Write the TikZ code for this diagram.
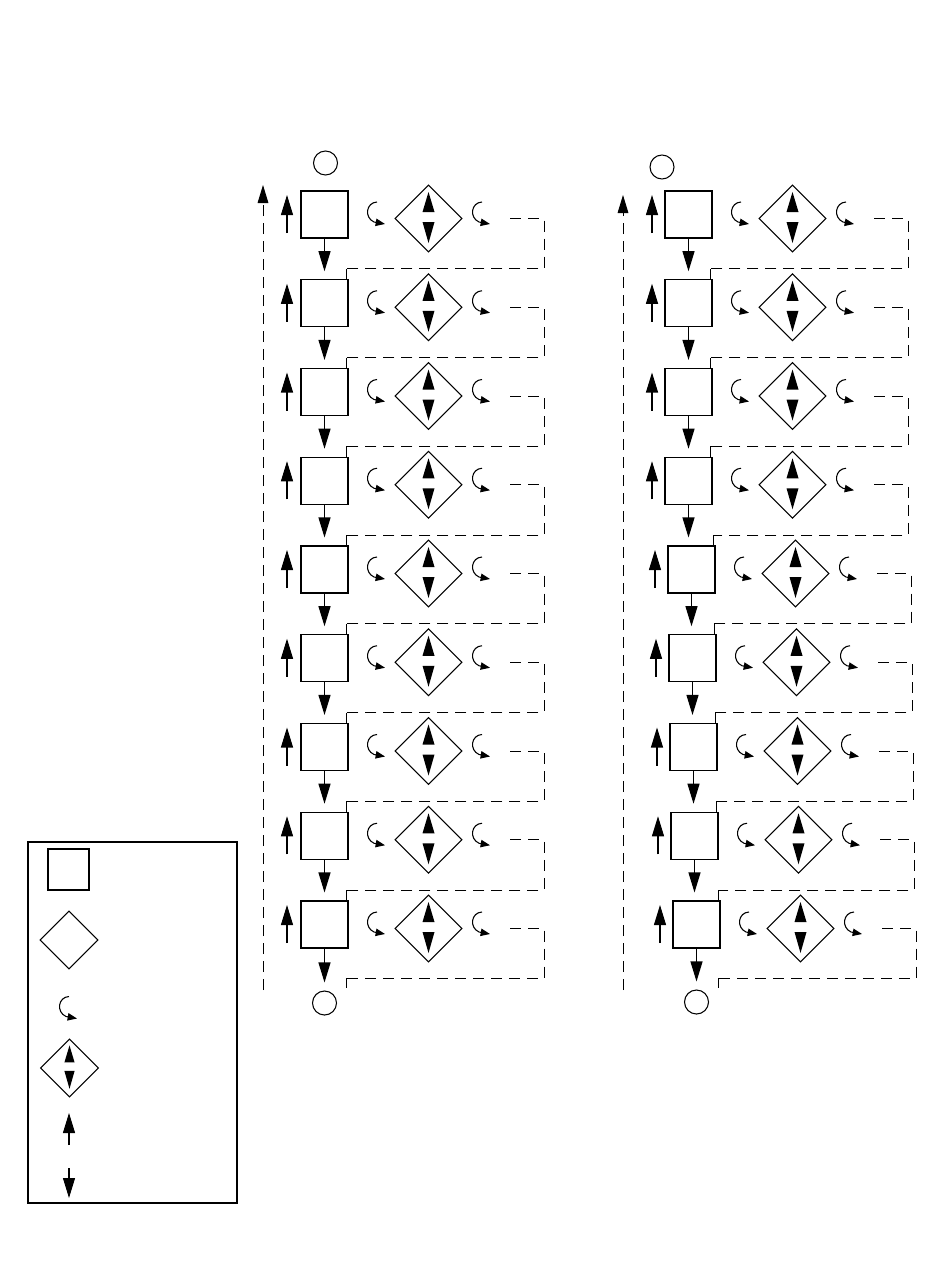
\documentclass[tikz,border=0pt]{standalone}
\usetikzlibrary{arrows.meta,shapes.geometric}
\tikzset{
  px/.style={x=0.75pt,y=-0.75pt},
  lw/.style={line width=0.8pt},
  sqbox/.style={draw,lw,rectangle,minimum size=35.25pt,inner sep=0pt},
  dbox/.style={draw,lw,diamond,aspect=1,minimum width=50.25pt,minimum height=50.25pt,inner sep=0pt},
  circ/.style={draw,lw,circle,minimum size=18pt,inner sep=0pt},
  arr/.style={lw,-{Triangle[length=15pt,width=9pt]}},
  curlarr/.style={lw,-{Triangle[length=7pt,width=5.5pt]}},
  dline/.style={line width=0.7pt,dash pattern=on 8.25pt off 5.25pt},
  sline/.style={line width=0.7pt},
  tri/.style={fill=black},
}
\newcommand{\mycurl}[2]{%
  \draw[curlarr] ({#1+10},{#2-12.5}) .. controls ({#1-1},{#2-12}) and ({#1-3},{#2+3}) .. ({#1+7},{#2+7.5}) -- ({#1+18},{#2+9.5});}
\newcommand{\mytris}[3]{% x, y, scale
  \fill ({#1},{#2-26.5*#3}) -- ({#1+6*#3},{#2-6.5*#3}) -- ({#1-6*#3},{#2-6.5*#3}) -- cycle;
  \fill ({#1},{#2+24.5*#3}) -- ({#1+6*#3},{#2+3.5*#3}) -- ({#1-6*#3},{#2+3.5*#3}) -- cycle;}
\newcommand{\myrow}[4]{% col, index, sx, uparrow offset
  \pgfmathsetmacro\yc{214.5+(#2-1)*88.75}
  \node[sqbox] (sq#1#2) at ({#3+23.5},\yc) {};
  \node[dbox] (dm#1#2) at ({#3+127.5},{\yc+4}) {};
  \mytris{#3+127.5}{\yc+4}{1}
  \mycurl{#3+66}{\yc}
  \mycurl{#3+171}{\yc}
  \coordinate (ds#1#2) at ({#3+209},{\yc+4});
  \draw[arr] ({#3-#4},{\yc+18.5}) -- ({#3-#4},{\yc-19.5});
}
\newcommand{\mylink}[6]{% col, i, j, sx_i, sx_j
  \pgfmathsetmacro\yc{214.5+(#2-1)*88.75}
  \coordinate (k#1#2) at ({#5+45},{\yc+54.25});
  \draw[dline] (ds#1#2) -- ({#4+243},{\yc+4}) -- ({#4+243},{\yc+54.25}) -- (k#1#2);
  \draw[sline] (k#1#2) -- (k#1#2 |- sq#1#3.north);
  \draw[arr,shorten >=6pt] (sq#1#2.south) -- (sq#1#2.south |- sq#1#3.north);
}
\begin{document}
\begin{tikzpicture}[px]
\useasboundingbox (0,0) rectangle (950,1267);
% left column
\foreach \i in {1,...,9}{\myrow{L}{\i}{301}{14}}
\foreach \i/\j in {1/2,2/3,3/4,4/5,5/6,6/7,7/8,8/9}{\mylink{L}{\i}{\j}{301}{301}{}}
% right column
\foreach \i/\dx in {1/0,2/0,3/0,4/0,5/3,6/4,7/5,8/6,9/8}{\myrow{R}{\i}{665+\dx}{13}}
\foreach \i/\j/\dx/\dxn in {1/2/0/0,2/3/0/0,3/4/0/0,4/5/0/3,5/6/3/4,6/7/4/5,7/8/5/6,8/9/6/8}{\mylink{R}{\i}{\j}{665+\dx}{665+\dxn}{}}
% circles
\node[circ] (cLt) at (325.5,163) {};
\node[circ] (cRt) at (662,167) {};
\node[circ] (cLb) at (324.5,1003) {};
\node[circ] (cRb) at (696.5,1002) {};
\draw[arr,shorten >=6pt] (sqL9.south) -- (sqL9.south |- cLb.north);
\draw[arr,shorten >=6pt] (sqR9.south) -- (sqR9.south |- cRb.north);
% bottom dashed returns
\coordinate (eL) at (346,988);
\coordinate (eR) at (718,988);
\draw[dline] (dsL9) -- (544,928.5) -- (544,978) -- (346,978);
\draw[sline] (346,978) -- (eL);
\draw[dline] (dsR9) -- (916,928.5) -- (916,978) -- (718,978);
\draw[sline] (718,978) -- (eR);
% long dashed return lines
\coordinate (lLb) at (263,990);
\coordinate (lLt) at (263,185);
\coordinate (lRb) at (623,990);
\coordinate (lRt) at (623,195);
\draw[dline,-{Triangle[length=13.5pt,width=8pt]}] (lLb) -- (lLt);
\draw[dline,-{Triangle[length=13.5pt,width=8pt]}] (lRb) -- (lRt);
% legend
\draw[lw] (28,842) rectangle (237,1203);
\node[draw,lw,rectangle,minimum size=30.75pt,inner sep=0pt] (lgsq) at (68.5,869.5) {};
\node[draw,lw,diamond,aspect=1,minimum width=43.5pt,minimum height=43.5pt,inner sep=0pt] (lgd) at (69,940) {};
\mycurl{59}{1009}
\node[draw,lw,diamond,aspect=1,minimum width=43.5pt,minimum height=43.5pt,inner sep=0pt] (lgda) at (69.5,1068) {};
\mytris{69.5}{1068}{0.85}
\draw[arr] (69,1145) -- (69,1113);
\draw[arr] (69,1168) -- (69,1198);
\end{tikzpicture}
\end{document}
